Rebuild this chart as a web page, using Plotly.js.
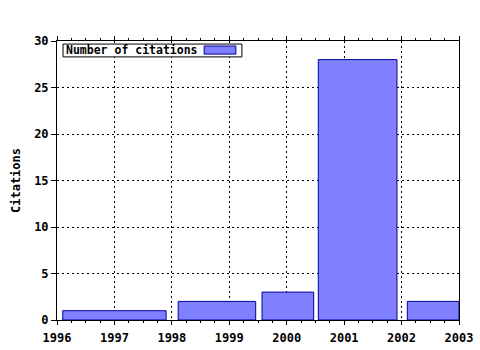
<!DOCTYPE html>
<html><head><meta charset="utf-8">
<script src="https://cdn.plot.ly/plotly-3.0.1.min.js"></script>
<style>html,body{margin:0;padding:0;background:#fff;}</style>
</head><body>
<div id="chart" style="width:480px;height:350px;"></div>
<script>
// Data: each bar spans [barStart, barEnd] on the year axis
const barStart = [1996.1, 1998.11, 1999.57, 2000.55, 2002.1];
const barEnd   = [1997.9, 1999.46, 2000.47, 2001.92, 2003.0];
const citations = [1, 2, 3, 28, 2];
const seriesName = "Number of citations";
const xTicks = [1996, 1997, 1998, 1999, 2000, 2001, 2002, 2003];
const yTicks = [0, 5, 10, 15, 20, 25, 30];

const boldFont = {family: "DejaVu Sans Mono", size: 12, color: "#000", weight: "bold"};
const centers = barStart.map((s, i) => (s + barEnd[i]) / 2);
const widths = barStart.map((s, i) => barEnd[i] - s);

const trace = {
  type: "bar", x: centers, y: citations, width: widths, name: seriesName,
  marker: {color: "#8080ff", line: {color: "#0000a0", width: 1}},
  showlegend: false, hoverinfo: "none"
};

const layout = {
  width: 480, height: 350,
  margin: {l: 57, r: 21, t: 41, b: 30},
  paper_bgcolor: "#fff", plot_bgcolor: "#fff",
  font: boldFont,
  xaxis: {
    range: [1996, 2003], tickvals: xTicks, ticktext: xTicks.map(String),
    showgrid: true, gridcolor: "#000", griddash: "2px,3px", gridwidth: 1,
    showline: true, linecolor: "#000", linewidth: 1, mirror: "ticks",
    ticks: "outside", ticklen: 4, tickcolor: "#000", ticklabelstandoff: 3,
    minor: {dtick: 0.25, tick0: 1996, ticks: "outside", ticklen: 2, tickcolor: "#000", showgrid: false},
    zeroline: false, tickfont: boldFont
  },
  yaxis: {
    range: [0, 30], tickvals: yTicks, ticktext: yTicks.map(String),
    showgrid: true, gridcolor: "#000", griddash: "2px,3px", gridwidth: 1,
    showline: true, linecolor: "#000", linewidth: 1, mirror: true,
    ticks: "outside", ticklen: 5, tickcolor: "#000",
    zeroline: false, tickfont: boldFont,
    title: {text: "Citations", standoff: 10, font: boldFont}
  },
  annotations: [{
    xref: "paper", yref: "paper", x: 0.017, y: 0.966, xanchor: "left", yanchor: "middle",
    text: seriesName, showarrow: false, align: "left",
    font: {family: "DejaVu Sans Mono", size: 11.5, color: "#000", weight: "bold"}
  }],
  shapes: [
    {type: "rect", xref: "paper", yref: "paper", layer: "above",
     x0: 0.015, x1: 0.460, y0: 0.943, y1: 0.989,
     fillcolor: "#fff", line: {color: "#000", width: 1}},
    {type: "rect", xref: "paper", yref: "paper", layer: "above",
     x0: 0.366, x1: 0.445, y0: 0.953, y1: 0.982,
     fillcolor: "#8080ff", line: {color: "#0000a0", width: 1}}
  ]
};

Plotly.newPlot("chart", [trace], layout, {displayModeBar: false, staticPlot: true});
</script>
</body></html>
